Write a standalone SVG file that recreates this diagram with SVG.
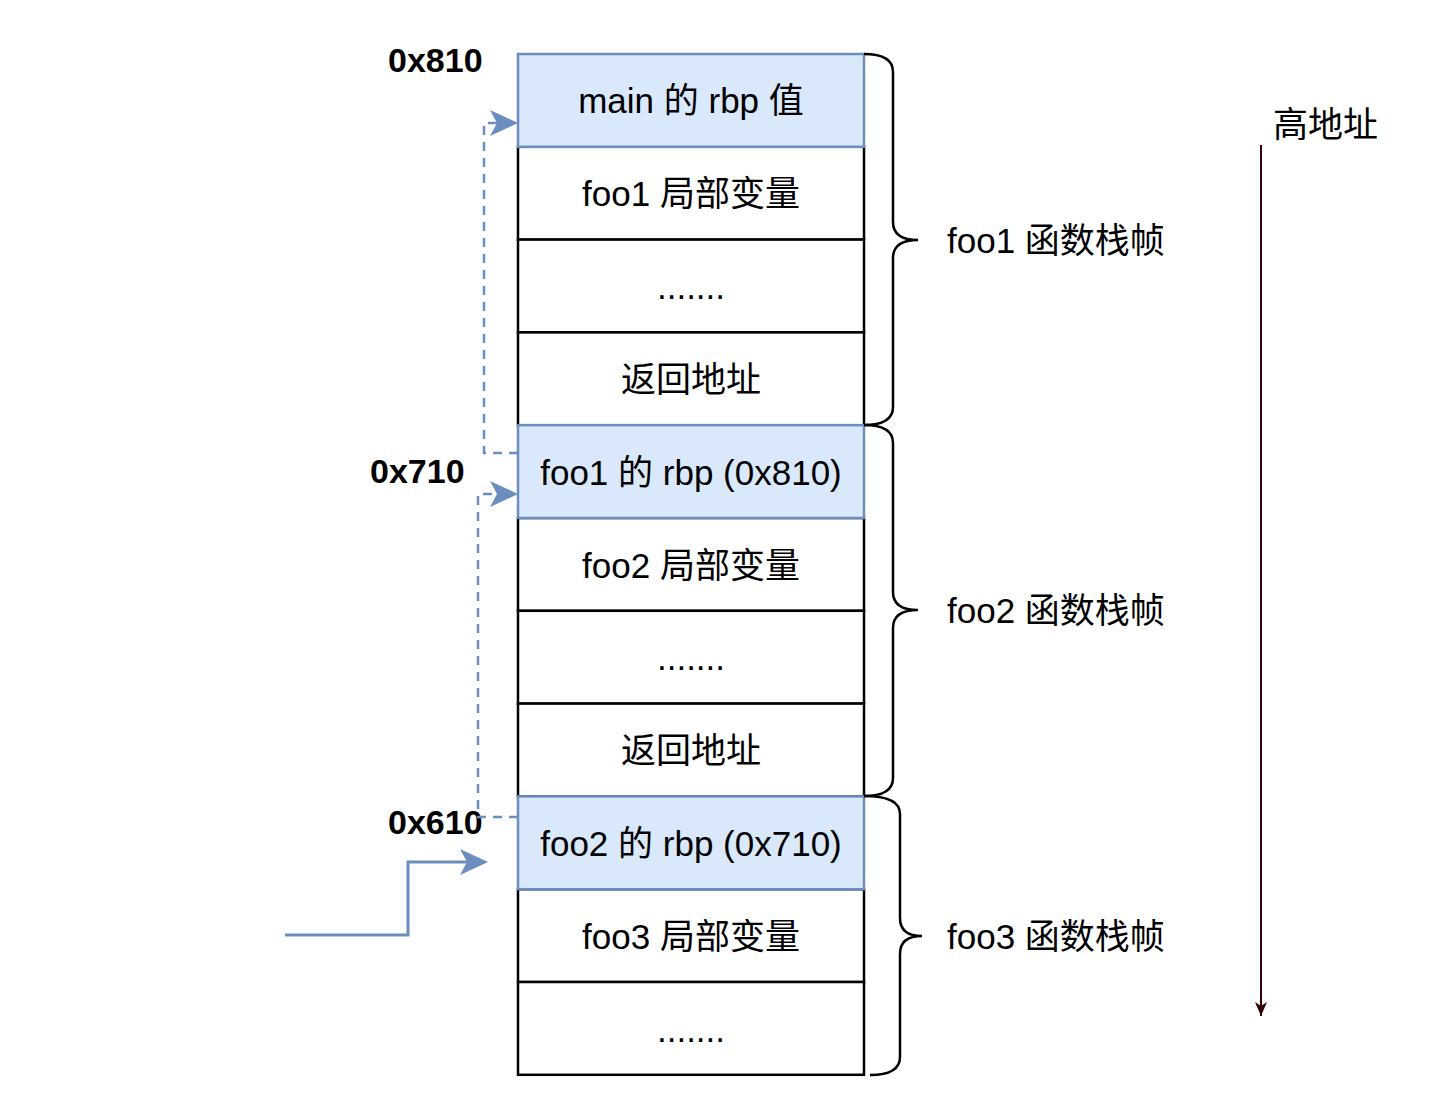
<svg xmlns="http://www.w3.org/2000/svg" xmlns:xlink="http://www.w3.org/1999/xlink" width="1445" height="1101" viewBox="0 0 1445 1101">
<style>
text{font-family:"Liberation Sans","Noto Sans CJK SC",sans-serif;fill:#000}
.t{font-size:35px;text-anchor:middle}
.lbl{font-size:35px}
.addr{font-size:34px;font-weight:bold}
.cell{fill:#fff;stroke:#000;stroke-width:2.5}
.blue{fill:#dae8fc;stroke:#6c8ebf;stroke-width:2.5}
.brace{fill:none;stroke:#000;stroke-width:2.5}
.dash{fill:none;stroke:#6c8ebf;stroke-width:2.5;stroke-dasharray:9 7}
.solid{fill:none;stroke:#6c8ebf;stroke-width:3}
.ah{fill:#6c8ebf;stroke:none}
</style>
<defs>
<path id="ah" d="M-28,-13 L0,0 L-28,13 L-21,0 Z"/>
<marker id="dk" viewBox="0 0 14 12" refX="14" refY="6" markerWidth="14" markerHeight="12" markerUnits="userSpaceOnUse" orient="auto">
<path d="M0,0 L14,6 L0,12 L4,6 Z" fill="#330000"/>
</marker>
</defs>
<g id="cells">
<g id="n0"><rect class="cell" x="518" y="146.8" width="346" height="92.8"/><text class="t" x="691" y="206">foo1 局部变量</text></g>
<g id="n1"><rect class="cell" x="518" y="239.6" width="346" height="92.8"/><text class="t" x="691" y="299">.......</text></g>
<g id="n2"><rect class="cell" x="518" y="332.4" width="346" height="92.8"/><text class="t" x="691" y="392">返回地址</text></g>
<g id="n4"><rect class="cell" x="518" y="518" width="346" height="92.8"/><text class="t" x="691" y="578">foo2 局部变量</text></g>
<g id="n5"><rect class="cell" x="518" y="610.8" width="346" height="92.8"/><text class="t" x="691" y="670">.......</text></g>
<g id="n6"><rect class="cell" x="518" y="703.6" width="346" height="92.8"/><text class="t" x="691" y="763">返回地址</text></g>
<g id="n8"><rect class="cell" x="518" y="889.2" width="346" height="92.8"/><text class="t" x="691" y="949">foo3 局部变量</text></g>
<g id="n9"><rect class="cell" x="518" y="982" width="346" height="92.8"/><text class="t" x="691" y="1042">.......</text></g>
<g id="main-rbp"><rect class="blue" x="518" y="54" width="346" height="92.8"/><text class="t" x="691" y="113">main 的 rbp 值</text></g>
<g id="foo1-rbp"><rect class="blue" x="518" y="425.2" width="346" height="92.8"/><text class="t" x="691" y="485">foo1 的 rbp (0x810)</text></g>
<g id="foo2-rbp"><rect class="blue" x="518" y="796.4" width="346" height="92.8"/><text class="t" x="691" y="856">foo2 的 rbp (0x710)</text></g>
</g>
<g id="braces">
<path class="brace" d="M864,54 Q893,54 893,72 L893,222 Q893,240 918,240 Q893,240 893,258 L893,407 Q893,425 864,425"/>
<path class="brace" d="M864,425 Q893,425 893,443 L893,592 Q893,610 918,610 Q893,610 893,628 L893,778 Q893,796 864,796"/>
<path class="brace" d="M864,796 Q900,796 900,814 L900,918 Q900,936 922,936 Q900,936 900,954 L900,1057 Q900,1075 870,1075"/>
</g>
<g id="frame-labels">
<text class="lbl" x="947" y="253">foo1 函数栈帧</text>
<text class="lbl" x="947" y="623">foo2 函数栈帧</text>
<text class="lbl" x="947" y="949">foo3 函数栈帧</text>
</g>
<g id="addresses">
<text class="addr" x="388" y="72">0x810</text>
<text class="addr" x="370" y="483">0x710</text>
<text class="addr" x="388" y="834">0x610</text>
</g>
<g id="high-addr"><text class="lbl" x="1273" y="137">高地址</text></g>
<g id="connectors">
<path class="dash" d="M518,453 L484,453 L484,123 L498,123"/>
<use href="#ah" xlink:href="#ah" class="ah" x="518" y="123"/>
<path class="dash" d="M518,817 L478,817 L478,494 L498,494"/>
<use href="#ah" xlink:href="#ah" class="ah" x="518" y="494"/>
<path class="solid" d="M285,935 L408,935 L408,862 L468,862"/>
<use href="#ah" xlink:href="#ah" class="ah" x="488" y="862"/>
<line x1="1261" y1="145" x2="1261" y2="1016" stroke="#330000" stroke-width="2" marker-end="url(#dk)"/>
</g>
</svg>
